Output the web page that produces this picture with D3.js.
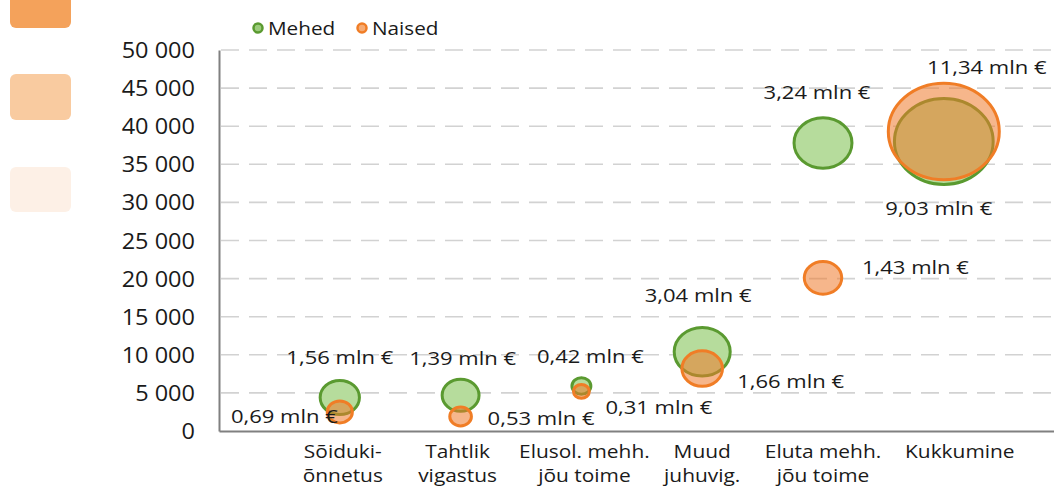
<!DOCTYPE html>
<html>
<head>
<meta charset="utf-8">
<script src="https://cdn.jsdelivr.net/npm/d3@7"></script>
<style>
  body { margin: 0; background: #fff; }
  text { font-family: "Open Sans", sans-serif; fill: #1a1a1a; }
</style>
</head>
<body>
<div id="chart"></div>
<script>
// categories (two-line labels)
const categories = [
  ["Sõiduki-", "õnnetus"],
  ["Tahtlik", "vigastus"],
  ["Elusol. mehh.", "jõu toime"],
  ["Muud", "juhuvig."],
  ["Eluta mehh.", "jõu toime"],
  ["Kukkumine"]
];
const seriesNames = ["Mehed", "Naised"];
// number of cases (y) and cost in mln € (bubble size)
const menCount = [4400, 4700, 5900, 10400, 37800, 38000];
const womenCount = [2500, 1900, 5200, 8200, 20100, 39300];
const menCost = [1.56, 1.39, 0.42, 3.04, 3.24, 9.03];
const womenCost = [0.69, 0.53, 0.31, 1.66, 1.43, 11.34];
const yTicks = [0, 5000, 10000, 15000, 20000, 25000, 30000, 35000, 40000, 45000, 50000];

// label placement relative to bubble centre / category
const menLabelPos = [
  { dx: 0, dy: -40, a: "middle" }, { dx: 2, dy: -37, a: "middle" },
  { dx: 9, dy: -30, a: "middle" }, { dx: -4, dy: -56, a: "middle" },
  { dx: -6, dy: -50, a: "middle" }, { dx: -5, dy: 67, a: "middle" }
];
const womenLabelPos = [
  { dx: -2, dy: 5, a: "end" }, { dx: 27, dy: 2, a: "start" },
  { dx: 24, dy: 16, a: "start" }, { dx: 35, dy: 13, a: "start" },
  { dx: 39, dy: -10, a: "start" }, { dx: 43, dy: -64, a: "middle" }
];
const catLabelShift = [3, -3, 3, 0, 0, 16];

const width = 1054;
const height = 489;

const loc = d3.formatLocale({ decimal: ",", thousands: " ", grouping: [3], currency: ["", " €"] });
const fmtTick = loc.format(",");
const fmtCost = loc.format(".2f");

const svg = d3.select("#chart").append("svg")
  .attr("width", width)
  .attr("height", height);

// decorative swatches on the left
const swatches = [
  { y: -18, h: 46, c: "#f4a25b" },
  { y: 74, h: 46, c: "#f9cba0" },
  { y: 167, h: 45, c: "#fdf0e6" }
];
svg.selectAll("rect.sw").data(swatches).enter().append("rect")
  .attr("x", 10).attr("y", d => d.y).attr("width", 61).attr("height", d => d.h)
  .attr("rx", 6).attr("fill", d => d.c);

const x = d3.scaleLinear().domain([0, 7]).range([219, 219 + 7 * 120.8]);
const y = d3.scaleLinear().domain([0, 50000]).range([431, 50]);
const r = d3.scaleSqrt().domain([0, 11.34]).range([0, 57]);

// gridlines
svg.append("g").selectAll("line").data(yTicks.filter(d => d > 0)).enter().append("line")
  .attr("x1", 221).attr("x2", width)
  .attr("y1", d => y(d)).attr("y2", d => y(d))
  .attr("stroke", "#d2d2d2").attr("stroke-width", 1.6)
  .attr("stroke-dasharray", "18,10");

// y axis
const yAxis = svg.append("g").attr("transform", "translate(219,0)")
  .call(d3.axisLeft(y).tickValues(yTicks).tickSize(0).tickSizeOuter(0).tickPadding(0).tickFormat(fmtTick));
yAxis.select(".domain").attr("stroke", "#808080").attr("stroke-width", 2);
yAxis.selectAll("text")
  .attr("x", 0).attr("dy", null)
  .attr("transform", "translate(-24,7.5)scale(1.12,1)")
  .style("font-size", "21px").style("font-family", "Open Sans").attr("fill", "#1a1a1a");

// x axis line
svg.append("g").attr("transform", "translate(0,431)")
  .call(d3.axisBottom(x).tickValues([]).tickSizeOuter(0))
  .select(".domain").attr("stroke", "#808080").attr("stroke-width", 2);

// category labels
categories.forEach((lines, i) => {
  lines.forEach((t, j) => {
    svg.append("text")
      .attr("transform", `translate(${x(i + 1) + catLabelShift[i]},${458 + j * 24})scale(1.1,1)`)
      .attr("text-anchor", "middle")
      .style("font-size", "19px")
      .text(t);
  });
});

// bubbles
const series = [
  { name: seriesNames[0], count: menCount, cost: menCost, pos: menLabelPos, stroke: "#5a9a30", fill: "#b6dc9c", op: 1 },
  { name: seriesNames[1], count: womenCount, cost: womenCost, pos: womenLabelPos, stroke: "#f07d26", fill: "#ee7a2c", op: 0.55 }
];

series.forEach(s => {
  const g = svg.append("g");
  g.selectAll("ellipse").data(s.count).enter().append("ellipse")
    .attr("cx", (d, i) => x(i + 1))
    .attr("cy", d => y(d))
    .attr("rx", (d, i) => r(s.cost[i]) - 1.5)
    .attr("ry", (d, i) => (r(s.cost[i]) - 1.5) * 0.87)
    .attr("fill", s.fill).attr("fill-opacity", s.op)
    .attr("stroke", s.stroke).attr("stroke-width", 3);
});

// value labels
series.forEach(s => {
  s.count.forEach((d, i) => {
    const p = s.pos[i];
    svg.append("text")
      .attr("transform", `translate(${x(i + 1) + p.dx},${y(d) + p.dy + 6.5})scale(1.19,1)`)
      .attr("text-anchor", p.a)
      .style("font-size", "18.5px")
      .text(fmtCost(s.cost[i]) + " mln €");
  });
});

// legend
const legend = svg.append("g");
series.forEach((s, i) => {
  const lx = 258 + i * 104;
  legend.append("circle").attr("cx", lx).attr("cy", 28).attr("r", 4.5)
    .attr("fill", i === 0 ? "#9ccc7c" : "#f6ab74").attr("stroke", s.stroke).attr("stroke-width", 2.5);
  legend.append("text")
    .attr("transform", `translate(${lx + 10},34.5)scale(1.12,1)`)
    .style("font-size", "18.5px")
    .text(s.name);
});
</script>
</body>
</html>
